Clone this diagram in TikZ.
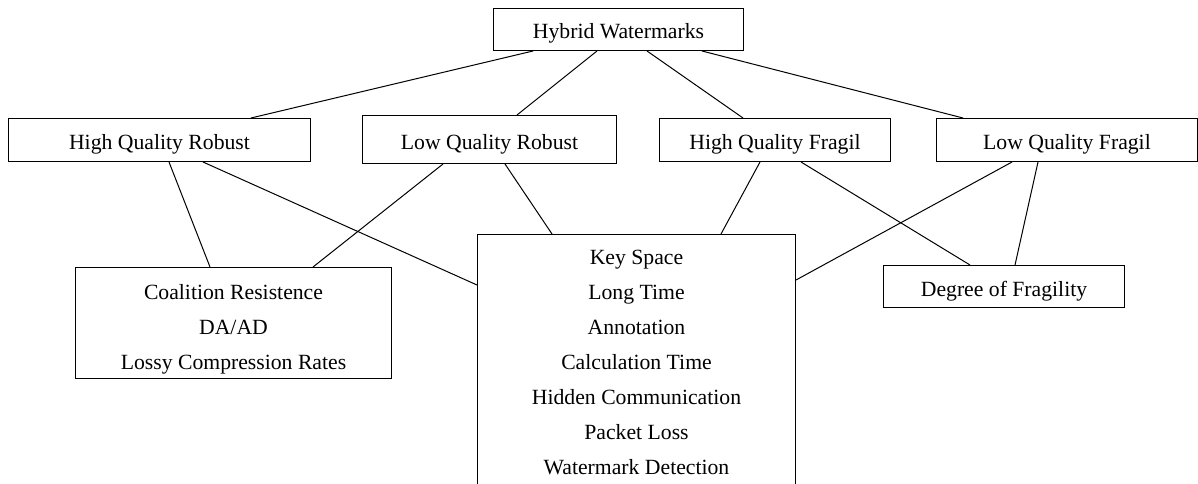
\documentclass[tikz,border=0pt]{standalone}
\usepackage{fontspec}
\setmainfont{Liberation Serif}
\begin{document}
\begin{tikzpicture}[x=1pt,y=1pt,
  box/.style={draw, line width=1pt, inner sep=0pt, anchor=north west, align=center,
    font=\fontsize{21.7}{35}\selectfont},
  one/.style={box, text height=24pt, text depth=5pt},
  conn/.style={line width=1pt}]
\useasboundingbox (0,0) rectangle (1198,-484);
\node[one, minimum width=250pt, minimum height=42pt] (hyb) at (493,-8) {Hybrid Watermarks};
\node[one, minimum width=302pt, minimum height=43pt] (hqr) at (8,-118) {High Quality Robust};
\node[one, minimum width=254pt, minimum height=48pt] (lqr) at (362,-115) {Low Quality Robust};
\node[one, minimum width=231pt, minimum height=43pt] (hqf) at (659,-118) {High Quality Fragil};
\node[one, minimum width=261pt, minimum height=43pt] (lqf) at (936,-118) {Low Quality Fragil};
\node[box, text height=93pt, text depth=0pt, minimum width=316pt, minimum height=111pt] (coal) at (75,-267) {Coalition Resistence\\DA/AD\\Lossy Compression Rates};
\node[box, minimum width=318pt, minimum height=256pt] (ctr) at (477,-234) {Key Space\\Long Time\\Annotation\\Calculation Time\\Hidden Communication\\Packet Loss\\Watermark Detection};
\node[one, minimum width=241pt, minimum height=42pt] (deg) at (883,-265) {Degree of Fragility};

\draw[conn] ([xshift=40pt]hyb.south west) -- ([xshift=243pt]hqr.north west);
\draw[conn] ([xshift=104pt]hyb.south west) -- ([xshift=155pt]lqr.north west);
\draw[conn] ([xshift=154pt]hyb.south west) -- ([xshift=84pt]hqf.north west);
\draw[conn] ([xshift=209pt]hyb.south west) -- ([xshift=27pt]lqf.north west);

\draw[conn] ([xshift=161pt]hqr.south west) -- ([xshift=135pt]coal.north west);
\draw[conn] ([xshift=195pt]hqr.south west) -- ([yshift=-51pt]ctr.north west);
\draw[conn] ([xshift=81pt]lqr.south west) -- ([xshift=238pt]coal.north west);
\draw[conn] ([xshift=143pt]lqr.south west) -- ([xshift=75pt]ctr.north west);
\draw[conn] ([xshift=101pt]hqf.south west) -- ([xshift=244pt]ctr.north west);
\draw[conn] ([xshift=142pt]hqf.south west) -- ([xshift=87pt]deg.north west);
\draw[conn] ([xshift=76pt]lqf.south west) -- ([yshift=-46pt]ctr.north east);
\draw[conn] ([xshift=102pt]lqf.south west) -- ([xshift=132pt]deg.north west);
\end{tikzpicture}
\end{document}
